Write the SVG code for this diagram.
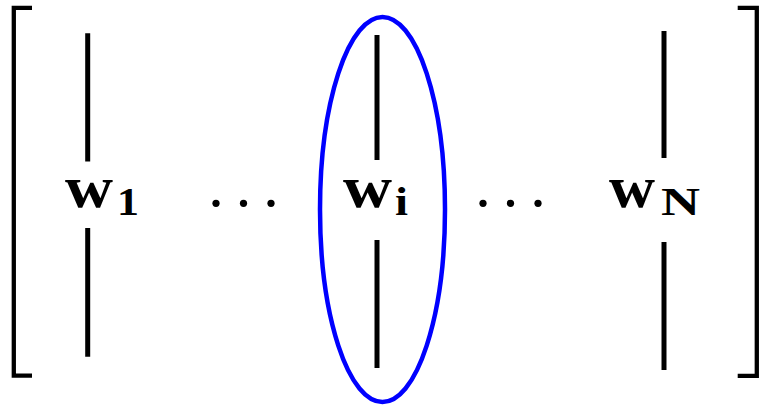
<svg xmlns="http://www.w3.org/2000/svg" width="759" height="406" viewBox="0 0 759 406">
  <style>
    .bar { stroke: #000; stroke-width: 5; fill: none; }
    .br { stroke: #000; stroke-width: 4.3; fill: none; stroke-linecap: butt; }
    .w { font-family: "Liberation Serif", "DejaVu Serif", serif; font-weight: bold; font-size: 60px; fill: #000; }
    .sub { font-family: "Liberation Serif", "DejaVu Serif", serif; font-weight: bold; font-size: 41px; fill: #000; }
    .dot { fill: #000; }
  </style>
  <rect width="759" height="406" fill="#fff"/>
  <g id="bracket-left">
    <path class="br" d="M32 7.8 H13.8 V375.6 H32"/>
  </g>
  <g id="bracket-right">
    <path class="br" d="M737.7 7.8 H756.8 V375.9 H737.7"/>
  </g>
  <g id="col-1">
    <line class="bar" x1="87.7" y1="33.3" x2="87.7" y2="161.5"/>
    <line class="bar" x1="87.7" y1="228" x2="87.7" y2="356.7"/>
    <text class="w" x="65" y="206.7" textLength="48" lengthAdjust="spacingAndGlyphs">w</text>
    <text class="sub" x="117" y="215" textLength="22" lengthAdjust="spacingAndGlyphs">1</text>
  </g>
  <g id="dots-left">
    <circle class="dot" cx="216" cy="203.3" r="3.6"/>
    <circle class="dot" cx="243.5" cy="203.3" r="3.6"/>
    <circle class="dot" cx="271" cy="203.3" r="3.6"/>
  </g>
  <g id="col-i">
    <line class="bar" x1="377" y1="35" x2="377" y2="160"/>
    <line class="bar" x1="377" y1="240" x2="377" y2="368"/>
    <text class="w" x="343" y="206.7" textLength="49" lengthAdjust="spacingAndGlyphs">w</text>
    <text class="sub" x="395" y="215" textLength="13" lengthAdjust="spacingAndGlyphs">i</text>
    <ellipse cx="382.5" cy="209.5" rx="62.5" ry="192.5" fill="none" stroke="#0000ff" stroke-width="4.5"/>
  </g>
  <g id="dots-right">
    <circle class="dot" cx="483" cy="203.3" r="3.6"/>
    <circle class="dot" cx="510.5" cy="203.3" r="3.6"/>
    <circle class="dot" cx="538" cy="203.3" r="3.6"/>
  </g>
  <g id="col-N">
    <line class="bar" x1="664" y1="31" x2="664" y2="158"/>
    <line class="bar" x1="664" y1="242" x2="664" y2="370"/>
    <text class="w" x="609" y="206.7" textLength="46" lengthAdjust="spacingAndGlyphs">w</text>
    <text class="sub" x="661" y="215" textLength="39" lengthAdjust="spacingAndGlyphs">N</text>
  </g>
</svg>
